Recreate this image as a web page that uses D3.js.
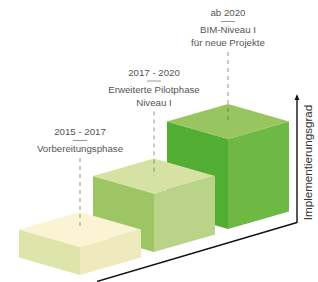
<!DOCTYPE html>
<html><head><meta charset="utf-8">
<script src="https://cdn.jsdelivr.net/npm/d3@7"></script>
<style>html,body{margin:0;padding:0;background:#fff;}svg{display:block;}</style>
</head><body>
<svg id="c" width="318" height="282"></svg>
<script>
// Data
const periods = ["2015 - 2017", "2017 - 2020", "ab 2020"];
const phaseLabels = [["Vorbereitungsphase"], ["Erweiterte Pilotphase", "Niveau I"], ["BIM-Niveau I", "für neue Projekte"]];
const levels = [31, 65, 100];            // Implementierungsgrad (relative)
const axisLabel = "Implementierungsgrad";
const topColors = ["#fbf4d4", "#d6e2a4", "#98c55f"];
const leftColors = ["#dde5aa", "#9dc564", "#52ad33"];
const rightColors = ["#eeeabd", "#b9d489", "#6eb944"];

const svg = d3.select("#c");
const idx = d3.range(periods.length);
// scales
const xS = d3.scalePoint().domain(idx).range([80, 228]);
const baseY = d3.scaleLinear().domain([0, periods.length - 1]).range([275, 229]);
const hS = d3.scaleLinear().domain([0, 100]).range([0, 90]);
const W = 61, D = 17.5;

// axes
const axG = svg.append("g");
axG.append("line").attr("x1", 97).attr("y1", 281.5).attr("x2", 297).attr("y2", 222.5)
  .attr("stroke", "#111").attr("stroke-width", 1.4);
axG.append("line").attr("x1", 297).attr("y1", 223).attr("x2", 297).attr("y2", 98)
  .attr("stroke", "#111").attr("stroke-width", 1.4);
axG.append("path").attr("d", "M297,94 L294.6,100 L299.4,100 Z").attr("fill", "#111");
axG.append("text").attr("transform", "translate(311.5,162.5) rotate(-90)")
  .attr("text-anchor", "middle").attr("font-family", "Liberation Sans, Arial, sans-serif")
  .attr("font-size", 11.6).attr("fill", "#333").text(axisLabel);

// boxes (draw back to front)
const order = idx.slice().reverse();
order.forEach(i => {
  const cx = xS(i), by = baseY(i), h = hS(levels[i]);
  const g = svg.append("g");
  const Ft = [cx, by - h], Lt = [cx - W, by - h - D], Tt = [cx, by - h - 2 * D], Rt = [cx + W, by - h - D];
  const Fb = [cx, by], Lb = [cx - W, by - D], Rb = [cx + W, by - D];
  const poly = pts => "M" + pts.map(p => p.join(",")).join("L") + "Z";
  g.append("path").attr("d", poly([Lt, Ft, Fb, Lb])).attr("fill", leftColors[i]);
  g.append("path").attr("d", poly([Ft, Rt, Rb, Fb])).attr("fill", rightColors[i]);
  g.append("path").attr("d", poly([Lt, Tt, Rt, Ft])).attr("fill", topColors[i]);
});

// labels + dashed leaders
const topLabelY = d3.scaleLinear().domain([0, periods.length - 1]).range([135, 16]);
idx.forEach(i => {
  const cx = xS(i), by = baseY(i), h = hS(levels[i]);
  const y0 = topLabelY(i);
  const g = svg.append("g").attr("font-family", "Liberation Sans, Arial, sans-serif")
    .attr("font-size", 9.7).attr("fill", "#555").attr("text-anchor", "middle");
  g.append("text").attr("x", cx).attr("y", y0).text(periods[i]);
  g.append("line").attr("x1", cx - 7).attr("x2", cx + 7).attr("y1", y0 + 5.5).attr("y2", y0 + 5.5)
    .attr("stroke", "#999").attr("stroke-width", 1);
  phaseLabels[i].forEach((t, k) => {
    g.append("text").attr("x", cx).attr("y", y0 + 17 + k * 13).text(t);
  });
  const lineTop = y0 + 17 + (phaseLabels[i].length - 1) * 13 + 6;
  const topCenter = by - h - D;
  svg.append("line").attr("x1", cx).attr("x2", cx).attr("y1", lineTop).attr("y2", topCenter)
    .attr("stroke", "#444").attr("stroke-opacity", 0.55).attr("stroke-width", 1)
    .attr("stroke-dasharray", "4,4");
});
</script>
</body></html>
